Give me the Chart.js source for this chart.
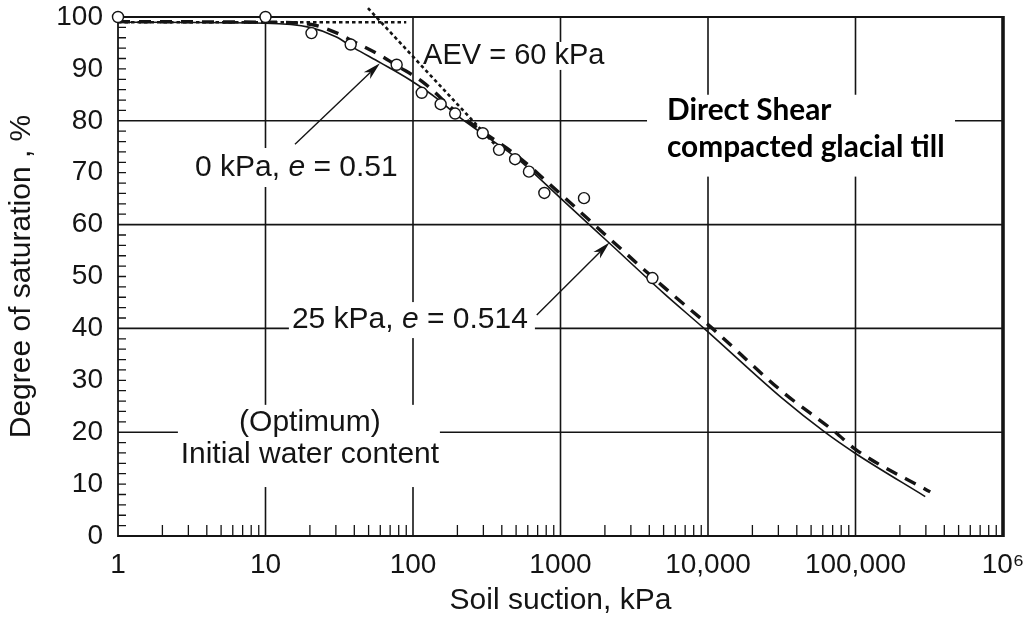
<!DOCTYPE html>
<html>
<head>
<meta charset="utf-8">
<script src="https://cdn.jsdelivr.net/npm/chart.js@4.4.1/dist/chart.umd.min.js"></script>
<style>
  html, body { margin: 0; padding: 0; background: #ffffff; }
  canvas { display: block; }
</style>
</head>
<body>
<canvas id="c" width="1030" height="629"></canvas>
<script>
// ---------------- data ----------------
const pointSuction    = [1, 10, 20.5, 37.8, 77.5, 114.6, 154, 193, 297, 383, 492, 611, 777, 1443, 4200];
const pointSaturation = [100, 100, 96.9, 94.7, 90.8, 85.4, 83.2, 81.4, 77.6, 74.4, 72.6, 70.2, 66.1, 65.1, 49.7];

// 0 kPa, e = 0.51 (solid line)
const curve0Suction    = [1, 10, 20, 30, 40, 60, 95, 150, 200, 300, 500, 1000, 2150, 5000, 9400, 31900, 62000, 100000, 297000];
const curve0Saturation = [99.0, 98.8, 98.0, 96.2, 94.0, 91.2, 87.9, 84.0, 81.0, 77.4, 72.9, 65.1, 56.4, 46.8, 40.0, 26.5, 20.0, 15.9, 7.6];

// 25 kPa, e = 0.514 (dashed line)
const curve25Suction    = [1, 10, 20, 30, 40, 60, 78, 115, 200, 300, 500, 1000, 2150, 5000, 10700, 31900, 73000, 100000, 321000];
const curve25Saturation = [99.1, 99.0, 98.6, 97.0, 95.2, 92.6, 90.6, 87.6, 81.5, 77.8, 73.4, 65.9, 57.3, 48.0, 40.0, 27.8, 20.0, 16.7, 8.5];

// AEV construction lines (dotted)
const aevFlatSuction     = [1, 90];
const aevFlatSaturation  = [99.0, 99.0];
const aevSlopeSuction    = [49.5, 400];
const aevSlopeSaturation = [101.7, 74.0];

// axes
const xTickValues = [1, 10, 100, 1000, 10000, 100000, 1000000];
const xTickLabels = ['1', '10', '100', '1000', '10,000', '100,000', '10\u2076'];
const yTickValues = [0, 10, 20, 30, 40, 50, 60, 70, 80, 90, 100];
const xGridValues = [10, 100, 1000, 10000, 100000];
const yGridValues = [20, 40, 60, 80];

// ---------------- helpers ----------------
const INK = '#141414';
const SANS = "'Liberation Sans', Arial, Helvetica, sans-serif";
Chart.defaults.font.family = SANS;
Chart.defaults.color = INK;

function pts(xs, ys) { return xs.map((x, i) => ({ x: x, y: ys[i] })); }

function minorXValues() {
  const out = [];
  for (let d = 0; d < 6; d++) for (let m = 2; m <= 9; m++) out.push(m * Math.pow(10, d));
  return out;
}
function minorYValues() {
  const out = [];
  for (let v = 2; v < 100; v += 2) if (v % 20 !== 0) out.push(v);
  return out;
}

function fontOf(part, size) {
  return (part.bold ? 'bold ' : '') + (part.italic ? 'italic ' : '') + size + 'px ' + (part.family || SANS);
}
function measureRich(ctx, parts, size) {
  let w = 0;
  parts.forEach(p => { ctx.font = fontOf(p, size); p.w = ctx.measureText(p.t).width; w += p.w; });
  return w;
}
function drawRich(ctx, parts, x, y, size, align) {
  const total = measureRich(ctx, parts, size);
  let cx = align === 'center' ? x - total / 2 : x;
  const left = cx;
  parts.forEach(p => { ctx.font = fontOf(p, size); ctx.fillText(p.t, cx, y); cx += p.w; });
  return { left: left, right: left + total };
}

// annotation labels, anchored in data coordinates
const labels = [
  { parts: [{ t: 'AEV = 60 kPa' }], x: 117, y: 92.5, size: 29, align: 'left', box: [-3, 4, -14, 14] },
  { parts: [{ t: '0 kPa, ' }, { t: 'e', italic: true }, { t: ' = 0.51' }], x: 3.33, y: 71.0, size: 30, align: 'left', box: [-5, 5, -19.5, 19.5] },
  { parts: [{ t: '25 kPa, ' }, { t: 'e', italic: true }, { t: ' = 0.514' }], x: 15.1, y: 41.7, size: 30, align: 'left', box: [-3, 7, -17.5, 18.5] },
  { parts: [{ t: '(Optimum)' }], x: 20.0, y: 21.8, size: 30, align: 'center', box: null },
  { parts: [{ t: 'Initial water content' }], x: 20.0, y: 15.6, size: 30, align: 'center', box: null }
];
const optimumBox = { x1: 20.0, dxl: -132, dxr: 130, y1: 21.8, dyt: -18, y2: 15.6, dyb: 32 };

const arrows = [
  { from: [15.85, 75.5], to: [59.7, 91.1] },
  { from: [690, 42.6], to: [2148, 56.55] }
];

function drawArrow(ctx, x0, y0, x1, y1) {
  const ang = Math.atan2(y1 - y0, x1 - x0);
  const len = 18, half = 4.6, notch = 5;
  ctx.beginPath();
  ctx.moveTo(x0, y0);
  ctx.lineTo(x1 - Math.cos(ang) * (len - notch), y1 - Math.sin(ang) * (len - notch));
  ctx.lineWidth = 1.4;
  ctx.stroke();
  const bx = x1 - Math.cos(ang) * len, by = y1 - Math.sin(ang) * len;
  const nx = -Math.sin(ang), ny = Math.cos(ang);
  ctx.beginPath();
  ctx.moveTo(x1, y1);
  ctx.lineTo(bx + nx * half, by + ny * half);
  ctx.lineTo(x1 - Math.cos(ang) * (len - notch), y1 - Math.sin(ang) * (len - notch));
  ctx.lineTo(bx - nx * half, by - ny * half);
  ctx.closePath();
  ctx.fill();
}

const decor = {
  id: 'decor',
  beforeDatasetsDraw(chart) {
    const { ctx, chartArea: a, scales: { x, y } } = chart;
    ctx.save();
    ctx.strokeStyle = INK;
    ctx.fillStyle = INK;

    // grid lines
    ctx.lineWidth = 1.6;
    ctx.beginPath();
    xGridValues.forEach(v => { const px = x.getPixelForValue(v); ctx.moveTo(px, a.top); ctx.lineTo(px, a.bottom); });
    yGridValues.forEach(v => { const py = y.getPixelForValue(v); ctx.moveTo(a.left, py); ctx.lineTo(a.right, py); });
    ctx.stroke();

    // minor ticks (inside)
    ctx.lineWidth = 1.3;
    ctx.beginPath();
    minorXValues().forEach(v => { const px = x.getPixelForValue(v); ctx.moveTo(px, a.bottom); ctx.lineTo(px, a.bottom - 11); });
    minorYValues().forEach(v => { const py = y.getPixelForValue(v); ctx.moveTo(a.left, py); ctx.lineTo(a.left + 8, py); });
    ctx.stroke();

    // frame
    ctx.lineWidth = 1.8;
    ctx.beginPath();
    ctx.moveTo(a.right, a.top); ctx.lineTo(a.left, a.top); ctx.lineTo(a.left, a.bottom); ctx.lineTo(a.right, a.bottom);
    ctx.stroke();
    ctx.lineWidth = 3.6;
    ctx.beginPath();
    ctx.moveTo(a.right, a.top - 1); ctx.lineTo(a.right, a.bottom + 1);
    ctx.stroke();

    // label boxes and labels
    ctx.textBaseline = 'middle';
    labels.forEach(l => {
      const px = x.getPixelForValue(l.x), py = y.getPixelForValue(l.y);
      const w = measureRich(ctx, l.parts, l.size);
      const left = l.align === 'center' ? px - w / 2 : px;
      if (l.box) {
        ctx.fillStyle = '#ffffff';
        ctx.fillRect(left + l.box[0], py + l.box[2], w - l.box[0] + l.box[1], l.box[3] - l.box[2]);
      }
    });
    // optimum block box
    {
      const cx = x.getPixelForValue(optimumBox.x1);
      const top = y.getPixelForValue(optimumBox.y1) + optimumBox.dyt;
      const bot = y.getPixelForValue(optimumBox.y2) + optimumBox.dyb;
      ctx.fillStyle = '#ffffff';
      ctx.fillRect(cx + optimumBox.dxl, top, optimumBox.dxr - optimumBox.dxl, bot - top);
    }
    ctx.fillStyle = INK;
    labels.forEach(l => {
      const px = x.getPixelForValue(l.x), py = y.getPixelForValue(l.y);
      drawRich(ctx, l.parts, px, py, l.size, l.align);
    });

    // Direct Shear block (bold, Calibri-like)
    {
      const lx = x.getPixelForValue(5275);
      const b1 = y.getPixelForValue(80.2);
      const b2 = y.getPixelForValue(73.1);
      const fam = "Lato, Carlito, 'Open Sans', sans-serif";
      ctx.font = 'bold 32px ' + fam;
      const target = 278;
      const size = 32 * target / ctx.measureText('compacted glacial till').width;
      ctx.fillStyle = '#ffffff';
      ctx.fillRect(lx - 20, b1 - 25, 308, b2 - b1 + 45);
      ctx.fillStyle = '#000000';
      ctx.textBaseline = 'alphabetic';
      ctx.font = 'bold ' + size.toFixed(1) + 'px ' + fam;
      ctx.fillText('Direct Shear', lx, b1);
      ctx.fillText('compacted glacial till', lx, b2);
    }
    ctx.restore();
  },
  afterDatasetsDraw(chart) {
    const { ctx, scales: { x, y } } = chart;
    ctx.save();
    ctx.strokeStyle = INK;
    ctx.fillStyle = INK;
    arrows.forEach(ar => {
      drawArrow(ctx, x.getPixelForValue(ar.from[0]), y.getPixelForValue(ar.from[1]),
                     x.getPixelForValue(ar.to[0]), y.getPixelForValue(ar.to[1]));
    });
    ctx.restore();
  }
};

new Chart(document.getElementById('c'), {
  type: 'scatter',
  data: {
    datasets: [
      {
        label: 'Measured',
        data: pts(pointSuction, pointSaturation),
        pointStyle: 'circle',
        pointRadius: 5.5,
        pointBorderWidth: 1.4,
        borderColor: INK,
        backgroundColor: '#ffffff',
        showLine: false,
        clip: false
      },
      {
        label: '0 kPa, e = 0.51',
        data: pts(curve0Suction, curve0Saturation),
        showLine: true, pointRadius: 0, borderColor: INK, borderWidth: 1.6,
        cubicInterpolationMode: 'monotone', fill: false
      },
      {
        label: '25 kPa, e = 0.514',
        data: pts(curve25Suction, curve25Saturation),
        showLine: true, pointRadius: 0, borderColor: INK, borderWidth: 3.4,
        borderDash: [12, 9], cubicInterpolationMode: 'monotone', fill: false
      },
      {
        label: 'AEV flat',
        data: pts(aevFlatSuction, aevFlatSaturation),
        showLine: true, pointRadius: 0, borderColor: INK, borderWidth: 2.6,
        borderDash: [3.5, 3], fill: false, clip: false
      },
      {
        label: 'AEV slope',
        data: pts(aevSlopeSuction, aevSlopeSaturation),
        showLine: true, pointRadius: 0, borderColor: INK, borderWidth: 2.6,
        borderDash: [3.5, 3], fill: false, clip: false
      }
    ]
  },
  options: {
    responsive: false,
    animation: false,
    events: [],
    layout: { padding: { left: 0, top: 17, right: 27, bottom: 0 } },
    plugins: { legend: { display: false }, tooltip: { enabled: false } },
    scales: {
      x: {
        type: 'logarithmic',
        position: 'bottom',
        min: 1, max: 1000000,
        grid: { display: false, drawTicks: false },
        border: { display: false },
        afterBuildTicks: s => { s.ticks = xTickValues.map(v => ({ value: v })); },
        afterFit: s => { s.height = 93; s.paddingLeft = 0; s.paddingRight = 0; },
        ticks: {
          autoSkip: false, maxRotation: 0, minRotation: 0, padding: 12,
          color: INK, font: { size: 28 },
          callback: v => { const i = xTickValues.indexOf(v); return i >= 0 ? xTickLabels[i] : ''; }
        },
        title: {
          display: true, text: 'Soil suction, kPa', color: INK,
          font: { size: 30 }, padding: { top: 0, bottom: 10 }
        }
      },
      y: {
        type: 'linear',
        position: 'left',
        min: 0, max: 100,
        grid: { display: false, drawTicks: false },
        border: { display: false },
        afterBuildTicks: s => { s.ticks = yTickValues.map(v => ({ value: v })); },
        afterFit: s => { s.width = 118; s.paddingTop = 0; s.paddingBottom = 0; },
        ticks: { padding: 15, color: INK, font: { size: 28 } },
        title: {
          display: true, text: 'Degree of saturation , %', color: INK,
          font: { size: 30 }, padding: { top: 4, bottom: 0 }
        }
      }
    }
  },
  plugins: [decor]
});
</script>
</body>
</html>
